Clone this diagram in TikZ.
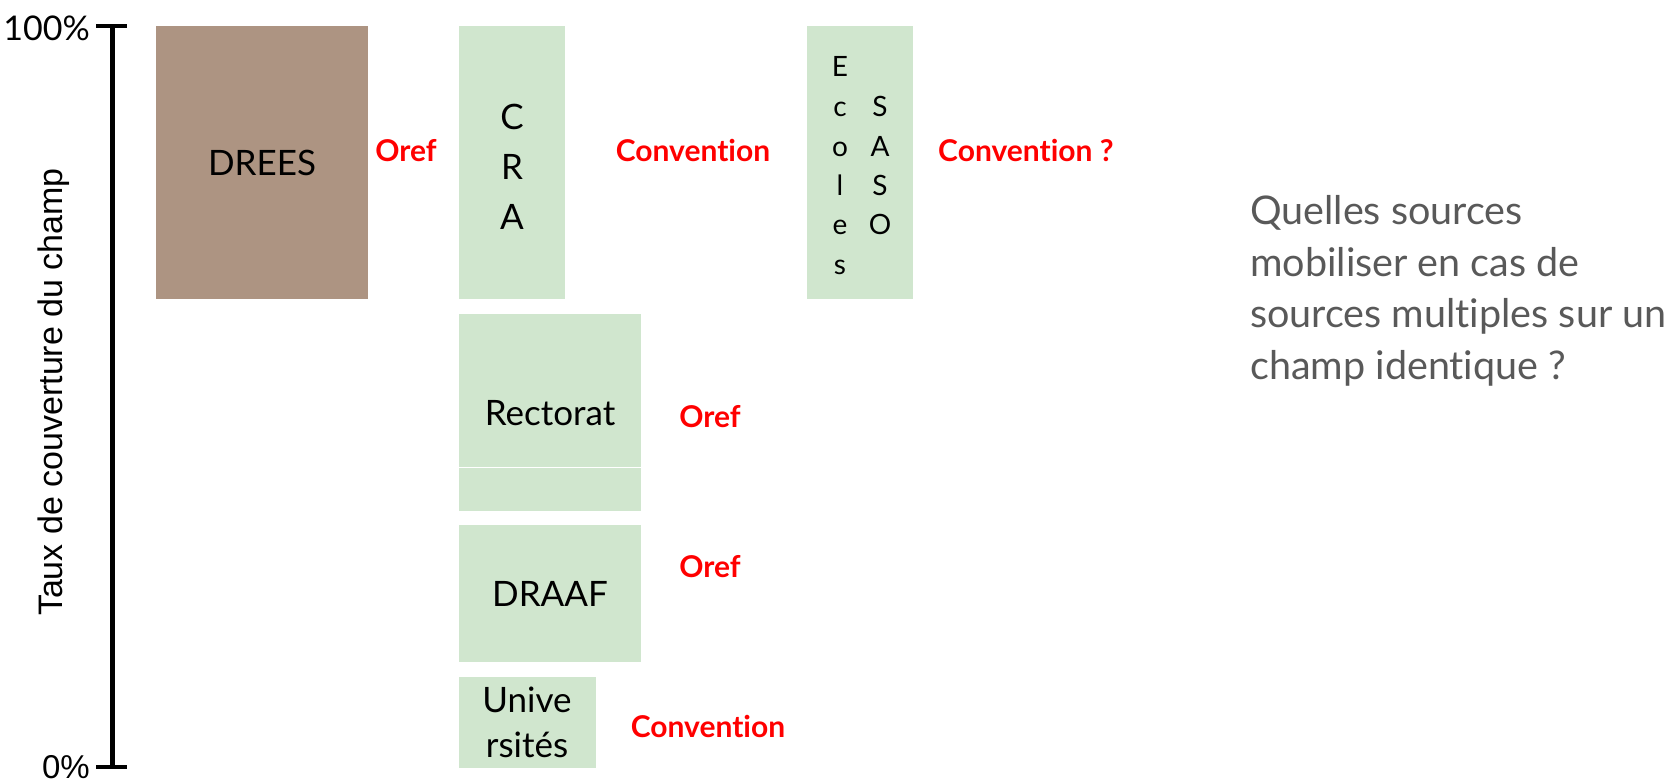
\documentclass[tikz,border=0pt]{standalone}
\usepackage{fontspec}
\setmainfont{Lato}[RawFeature=-liga]
\newfontfamily\arialf{Liberation Sans}
\definecolor{dreesbrown}{RGB}{173,148,130}
\definecolor{boxgreen}{RGB}{208,230,206}
\definecolor{graytext}{RGB}{89,89,89}
\begin{document}
\begin{tikzpicture}[x=1pt,y=-1pt,
  blk/.style={shape=rectangle, draw=none, inner sep=0pt, outer sep=0pt, anchor=north west},
  greenbox/.style={blk, fill=boxgreen},
  boxtxt/.style={anchor=base, inner sep=0pt, font=\fontsize{35}{35}\selectfont},
  smalltxt/.style={anchor=base, inner sep=0pt, font=\fontsize{28}{28}\selectfont},
  redlbl/.style={anchor=base, inner sep=0pt, text=red, font=\bfseries\fontsize{30}{30}\selectfont},
  question/.style={anchor=base west, inner sep=0pt, text=graytext, font=\fontsize{39.5}{39.5}\selectfont},
  axisline/.style={line width=5pt},
  tickline/.style={line width=4.5pt}]
\useasboundingbox (0,0) rectangle (1673,783);
% axis
\coordinate (atop) at (112,26);
\coordinate (abot) at (112,767);
\coordinate (ttl) at (96,26);
\coordinate (ttr) at (127,26);
\coordinate (tbl) at (96,767);
\coordinate (tbr) at (127,767);
\draw[axisline] (atop) -- (abot);
\draw[tickline] (ttl) -- (ttr);
\draw[tickline] (tbl) -- (tbr);
\node[anchor=base east, inner sep=0pt, font=\fontsize{34}{34}\selectfont] (p100) at (90,41) {100\%};
\node[anchor=base east, inner sep=0pt, font=\arialf\fontsize{33}{33}\selectfont] (p0) at (90,778) {0\%};
\node[rotate=90, anchor=base, inner sep=0pt, font=\arialf\fontsize{34}{34}\selectfont] (ylab) at (62,392) {Taux de couverture du champ};
% boxes
\node[blk, fill=dreesbrown, minimum width=212pt, minimum height=273pt] (drees) at (156,26) {};
\node[greenbox, minimum width=106pt, minimum height=273pt] (cra) at (459,26) {};
\node[greenbox, minimum width=106pt, minimum height=273pt] (ecoles) at (807,26) {};
\node[greenbox, minimum width=182pt, minimum height=197pt] (rectorat) at (459,314) {};
\coordinate (rl) at (459,467);
\coordinate (rr) at (641,467);
\draw[white, line width=1pt] (rl) -- (rr);
\node[greenbox, minimum width=182pt, minimum height=137pt] (draaf) at (459,525) {};
\node[greenbox, minimum width=137pt, minimum height=91pt] (univ) at (459,677) {};
% box texts
\node[boxtxt] (tdrees) at (262,176) {DREES};
\node[boxtxt] (tc) at (512,130) {C};
\node[boxtxt] (tr) at (512,180) {R};
\node[boxtxt] (ta) at (512,230) {A};
\node[smalltxt] (e1) at (840,77) {E};
\node[smalltxt] (e2) at (840,117) {c};
\node[smalltxt] (e3) at (840,157) {o};
\node[smalltxt] (e4) at (840,196) {l};
\node[smalltxt] (e5) at (840,235) {e};
\node[smalltxt] (e6) at (840,275) {s};
\node[smalltxt] (s1) at (880,117) {S};
\node[smalltxt] (s2) at (880,157) {A};
\node[smalltxt] (s3) at (880,196) {S};
\node[smalltxt] (s4) at (880,235) {O};
\node[boxtxt] (trect) at (550,425) {Rectorat};
\node[boxtxt] (tdraaf) at (550,606) {DRAAF};
\node[boxtxt] (tu1) at (527,712) {Unive};
\node[boxtxt] (tu2) at (527,757) {rsités};
% red labels
\node[redlbl] (oref1) at (406,162) {Oref};
\node[redlbl] (conv1) at (693,162) {Convention};
\node[redlbl, anchor=base west] (conv2) at (938,162) {Convention ?};
\node[redlbl] (oref2) at (710,427) {Oref};
\node[redlbl] (oref3) at (710,577) {Oref};
\node[redlbl] (conv3) at (708,737) {Convention};
% question
\node[question] (q1) at (1250,225) {Quelles sources};
\node[question] (q2) at (1250,277) {mobiliser en cas de};
\node[question] (q3) at (1250,328) {sources multiples sur un};
\node[question] (q4) at (1250,380) {champ identique ?};
\end{tikzpicture}
\end{document}
